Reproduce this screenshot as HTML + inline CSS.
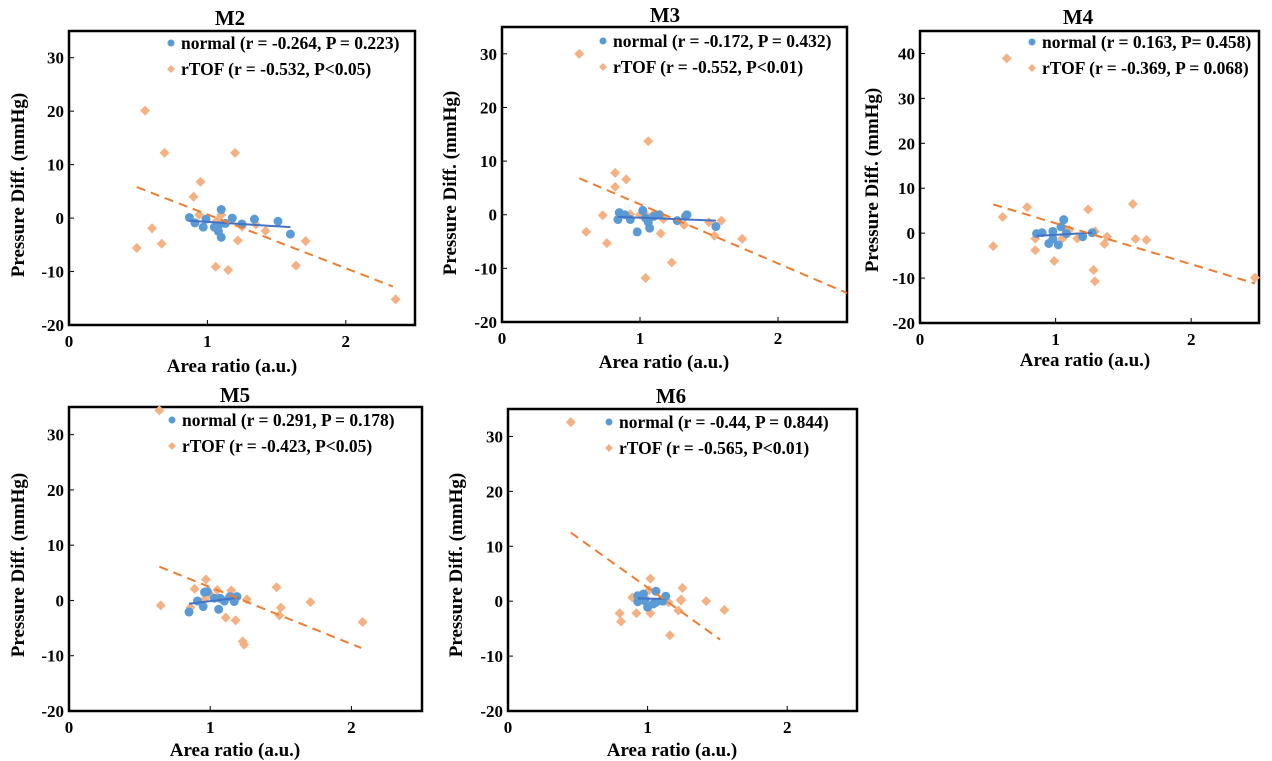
<!DOCTYPE html>
<html><head><meta charset="utf-8">
<style>
html,body{margin:0;padding:0;background:#fff;}
svg{display:block;font-family:"Liberation Serif",serif;font-weight:bold;}
</style></head>
<body>
<svg id="fig" width="1272" height="761" viewBox="0 0 1272 761" xmlns="http://www.w3.org/2000/svg"></svg>
<script>
// ---- data ----
const m2NormX=[0.87,0.91,0.97,0.99,1.05,1.08,1.08,1.10,1.10,1.13,1.18,1.25,1.34,1.51,1.60];
const m2NormY=[0.1,-0.9,-1.7,-0.2,-1.7,-1.4,-2.5,-3.6,1.6,-1.0,0,-1.1,-0.2,-0.6,-3.0];
const m2TofX=[0.55,0.69,1.20,0.95,0.90,0.94,1.10,0.49,0.60,0.67,1.06,1.15,1.22,1.35,1.42,1.25,1.64,1.71,2.36,1.07];
const m2TofY=[20.1,12.2,12.2,6.8,4.0,0.6,0.6,-5.6,-1.9,-4.8,-9.1,-9.7,-4.2,-1.2,-2.4,-1.6,-8.9,-4.3,-15.2,-0.5];
const m2NormTrend=[0.87,-0.5,1.60,-1.7];
const m2TofTrend=[0.49,5.8,2.34,-12.8];

const m3NormX=[0.84,0.85,0.89,0.93,0.98,1.02,1.04,1.06,1.07,1.10,1.14,1.27,1.33,1.34,1.55];
const m3NormY=[-0.9,0.4,0,-0.9,-3.2,0.8,-0.6,-1.4,-2.5,-0.3,0,-1.1,-0.3,0,-2.2];
const m3TofX=[0.56,1.06,0.82,0.90,0.82,0.73,0.61,0.76,0.93,1.00,1.05,1.10,1.15,1.17,1.23,1.04,1.32,1.50,1.54,1.59,1.74];
const m3TofY=[30,13.7,7.8,6.6,5.2,-0.1,-3.2,-5.3,0.1,0,-0.2,0.1,-3.5,-0.8,-8.9,-11.8,-1.9,-1.4,-3.9,-1.1,-4.5];
const m3NormTrend=[0.84,-0.4,1.55,-1.1];
const m3TofTrend=[0.56,6.8,2.5,-14.6];

const m4NormX=[0.86,0.90,0.95,0.98,0.98,1.02,1.04,1.06,1.08,1.20,1.27];
const m4NormY=[-0.1,0.1,-2.3,0.4,-1.3,-2.6,1.4,3.0,-0.1,-0.8,0.1];
const m4TofX=[0.64,0.54,0.61,0.79,0.85,0.85,0.99,1.05,1.10,1.16,1.24,1.29,1.28,1.29,1.36,1.38,1.57,1.59,1.67,2.47,1.07];
const m4TofY=[38.9,-2.9,3.6,5.8,-1.2,-3.8,-6.2,-1.2,0.7,-1.2,5.3,0.4,-8.2,-10.7,-2.4,-0.8,6.5,-1.3,-1.5,-9.9,0.8];
const m4NormTrend=[0.86,-0.6,1.27,0.1];
const m4TofTrend=[0.54,6.4,2.47,-11.2];

const m5NormX=[0.85,0.91,0.95,0.96,0.98,1.03,1.06,1.07,1.10,1.14,1.17,1.19];
const m5NormY=[-2.1,-0.1,-1.1,1.5,1.6,0.4,-1.6,0.4,-0.1,0.7,-0.2,0.7];
const m5TofX=[0.64,0.65,0.86,0.89,0.97,0.96,1.01,1.05,1.11,1.15,1.18,1.23,1.24,1.26,1.47,1.50,1.49,1.71,2.08];
const m5TofY=[34.4,-0.9,-1.3,2.1,3.8,0.2,0.8,1.9,-3.1,1.8,-3.6,-7.4,-8.0,0.2,2.4,-1.3,-2.7,-0.3,-3.9];
const m5NormTrend=[0.85,-0.6,1.20,0.5];
const m5TofTrend=[0.64,6.1,2.07,-8.6];

const m6NormX=[0.93,0.93,0.97,0.98,1.00,1.04,1.06,1.06,1.10,1.13,1.11];
const m6NormY=[-0.1,1.0,1.3,0.1,-1.1,-0.5,1.8,-0.2,0.1,0.9,0];
const m6TofX=[0.45,0.89,0.80,0.81,0.92,1.02,1.01,1.02,1.15,1.16,1.22,1.25,1.24,1.24,1.42,1.55,0.99];
const m6TofY=[32.6,0.7,-2.2,-3.7,-2.2,4.1,2.0,-2.2,-0.2,-6.2,-1.7,2.4,0.3,0.1,0,-1.6,0.4];
const m6NormTrend=[0.93,0.5,1.12,0.4];
const m6TofTrend=[0.45,12.5,1.52,-7.0];

const xTicks=[0,1,2];
const yTicks35=[-20,-10,0,10,20,30];
const yTicks45=[-20,-10,0,10,20,30,40];

const NS="http://www.w3.org/2000/svg";
const svg=document.getElementById('fig');
function mk(tag,attrs,parent){const e=document.createElementNS(NS,tag);for(const k in attrs)e.setAttribute(k,attrs[k]);(parent||svg).appendChild(e);return e;}

const panels=[
 {id:'m2',title:'M2',L:69,T:31,R:415,B:325,ymax:35,yt:yTicks35,tx:230,ty:25,
  nx:m2NormX,ny:m2NormY,tofx:m2TofX,tofy:m2TofY,nt:m2NormTrend,tt:m2TofTrend,
  leg1:'normal (r = -0.264, P = 0.223)',leg2:'rTOF (r = -0.532, P<0.05)',lx:171,ly:43,
  ylx:18,yly:185,xlx:232,xly:372},
 {id:'m3',title:'M3',L:502,T:27,R:847,B:322,ymax:35,yt:yTicks35,tx:665,ty:22,
  nx:m3NormX,ny:m3NormY,tofx:m3TofX,tofy:m3TofY,nt:m3NormTrend,tt:m3TofTrend,
  leg1:'normal (r = -0.172, P = 0.432)',leg2:'rTOF (r = -0.552, P<0.01)',lx:603,ly:41,
  ylx:450,yly:183,xlx:664,xly:368},
 {id:'m4',title:'M4',L:920,T:31,R:1259,B:323,ymax:45,yt:yTicks45,tx:1078,ty:24,
  nx:m4NormX,ny:m4NormY,tofx:m4TofX,tofy:m4TofY,nt:m4NormTrend,tt:m4TofTrend,
  leg1:'normal (r = 0.163, P= 0.458)',leg2:'rTOF (r = -0.369, P = 0.068)',lx:1032,ly:42,
  ylx:872,yly:180,xlx:1085,xly:366},
 {id:'m5',title:'M5',L:69,T:407,R:422,B:711,ymax:35,yt:yTicks35,tx:235,ty:402,
  nx:m5NormX,ny:m5NormY,tofx:m5TofX,tofy:m5TofY,nt:m5NormTrend,tt:m5TofTrend,
  leg1:'normal (r = 0.291, P = 0.178)',leg2:'rTOF (r = -0.423, P<0.05)',lx:172,ly:420,
  ylx:18,yly:565,xlx:235,xly:756},
 {id:'m6',title:'M6',L:508,T:409,R:857,B:711,ymax:35,yt:yTicks35,tx:671,ty:403,
  nx:m6NormX,ny:m6NormY,tofx:m6TofX,tofy:m6TofY,nt:m6NormTrend,tt:m6TofTrend,
  leg1:'normal (r = -0.44, P = 0.844)',leg2:'rTOF (r = -0.565, P<0.01)',lx:609,ly:422,
  ylx:456,yly:565,xlx:672,xly:756}
];

function diamond(g,cx,cy,s,fill){
  return mk('polygon',{points:`${cx},${cy-s} ${cx+s},${cy} ${cx},${cy+s} ${cx-s},${cy}`,fill:fill},g);
}

panels.forEach(p=>{
  const g=mk('g',{});
  
  
  const xs=v=>p.L+(v-0)/(2.5-0)*(p.R-p.L);
  const ys=v=>p.B-(v-(-20))/(p.ymax-(-20))*(p.B-p.T);

  const t=mk('text',{x:p.tx,y:p.ty,'text-anchor':'middle','font-size':21},g);
  t.textContent=p.title;
  
  

  const box=mk('rect',{x:p.L,y:p.T,width:p.R-p.L,height:p.B-p.T,fill:'none',stroke:'#000','stroke-width':2.5},g);
  
  

  xTicks.forEach(v=>{
    mk('line',{x1:xs(v),x2:xs(v),y1:p.B,y2:p.B-5,stroke:'#000','stroke-width':1},g);
    const tl=mk('text',{x:xs(v),y:p.B+22,'text-anchor':'middle','font-size':17},g);
    tl.textContent=v;
    
    
  });
  p.yt.forEach(v=>{
    mk('line',{x1:p.L,x2:p.L+5,y1:ys(v),y2:ys(v),stroke:'#000','stroke-width':1},g);
    const tl=mk('text',{x:p.L-5,y:ys(v)+6,'text-anchor':'end','font-size':17},g);
    tl.textContent=v;
    
    
  });

  const yl=mk('text',{x:p.ylx,y:p.yly,'text-anchor':'middle','font-size':19,transform:`rotate(-90 ${p.ylx} ${p.yly})`,dy:6},g);
  yl.textContent='Pressure Diff. (mmHg)';
  
  
  const xl=mk('text',{x:p.xlx,y:p.xly,'text-anchor':'middle','font-size':19},g);
  xl.textContent='Area ratio (a.u.)';
  
  

  p.tofx.forEach((x,i)=>{
    const d=diamond(g,xs(x),ys(p.tofy[i]),5,'#f4b183');
    
    
  });
  p.nx.forEach((x,i)=>{
    const c=mk('circle',{cx:xs(x),cy:ys(p.ny[i]),r:4.5,fill:'#5b9bd5'},g);
    
    
  });
  const nl=mk('line',{x1:xs(p.nt[0]),y1:ys(p.nt[1]),x2:xs(p.nt[2]),y2:ys(p.nt[3]),stroke:'#4472c4','stroke-width':2},g);
  
  
  const tl=mk('line',{x1:xs(p.tt[0]),y1:ys(p.tt[1]),x2:xs(p.tt[2]),y2:ys(p.tt[3]),stroke:'#ed7d31','stroke-width':2,'stroke-dasharray':'9,6'},g);
  
  

  const lc=mk('circle',{cx:p.lx,cy:p.ly,r:3.5,fill:'#5b9bd5'},g);
  
  
  const l1=mk('text',{x:p.lx+10,y:p.ly+6,'font-size':17.5},g);
  l1.textContent=p.leg1;
  
  
  const ld=diamond(g,p.lx,p.ly+26,4,'#f4b183');
  
  
  const l2=mk('text',{x:p.lx+10,y:p.ly+32,'font-size':17.5},g);
  l2.textContent=p.leg2;
  
  
});
</script>
</body></html>
